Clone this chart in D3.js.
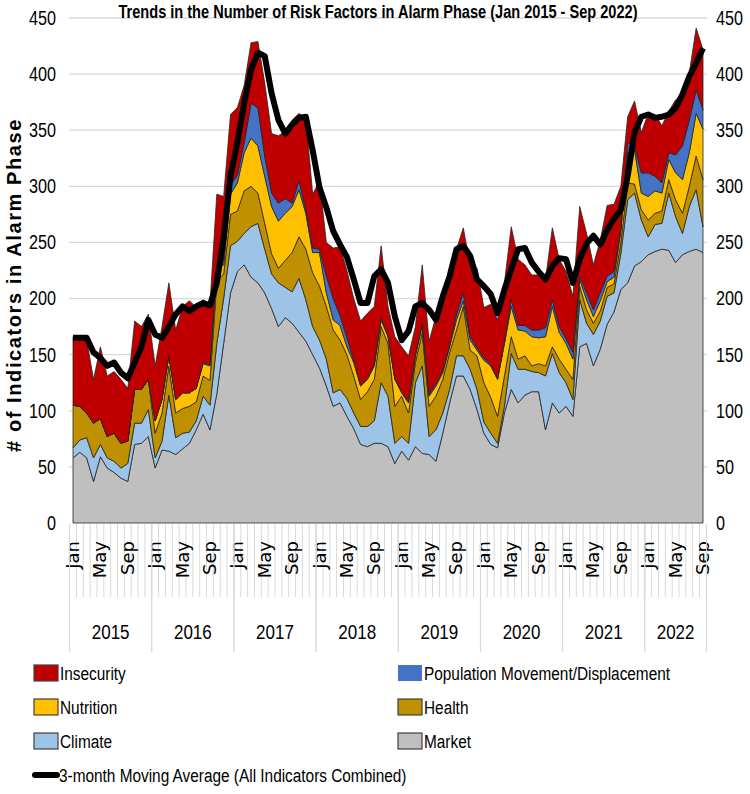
<!DOCTYPE html>
<html>
<head>
<meta charset="utf-8">
<script src="https://cdnjs.cloudflare.com/ajax/libs/d3/7.8.5/d3.min.js"></script>
<style>
  body { margin: 0; background: #ffffff; }
  text { font-family: "Liberation Sans", Arial, sans-serif; fill: #000; }
</style>
</head>
<body>
<div id="container"></div>
<script>
let w = 750;
let h = 794;

// categories
let years = ["2015", "2016", "2017", "2018", "2019", "2020", "2021", "2022"];
let monthNames = ["Jan", "Feb", "Mar", "Apr", "May", "Jun", "Jul", "Aug", "Sep", "Oct", "Nov", "Dec"];
let shownMonths = ["Jan", "May", "Sep"];
let yTicks = [0, 50, 100, 150, 200, 250, 300, 350, 400, 450];

// number of indicators per month, Jan 2015 - Sep 2022
let market = [
  58, 63, 58, 37, 59, 49, 45, 40, 37, 70, 71, 77,
  49, 65, 64, 61, 66, 71, 83, 97, 83, 115, 160, 205,
  224, 230, 219, 214, 205, 191, 175, 183, 178, 170, 162, 150,
  138, 122, 104, 107, 95, 84, 70, 68, 71, 71, 68, 53,
  64, 56, 68, 62, 61, 55, 80, 107, 131, 131, 119, 101,
  80, 70, 67, 98, 119, 107, 114, 117, 117, 83, 107, 98,
  104, 95, 157, 160, 140, 155, 177, 188, 208, 214, 229, 233,
  239, 242, 244, 243, 232, 239, 242, 244, 241
];
let climate = [
  9, 11, 18, 21, 11, 9, 10, 9, 16, 19, 18, 24,
  9, 8, 50, 15, 14, 10, 8, 16, 22, 45, 40, 42,
  27, 28, 45, 53, 39, 31, 39, 27, 28, 48, 37, 25,
  25, 24, 12, 12, 16, 14, 16, 18, 20, 54, 45, 18,
  13, 15, 57, 78, 16, 28, 18, 12, 18, 18, 18, 18,
  10, 10, 4, 6, 32, 30, 23, 18, 17, 48, 44, 36,
  21, 15, 42, 18, 28, 25, 25, 17, 32, 74, 65, 37,
  16, 24, 23, 51, 41, 19, 40, 53, 23
];
let health = [
  38, 30, 22, 31, 23, 19, 25, 22, 20, 30, 30, 27,
  22, 25, 26, 22, 22, 23, 17, 18, 22, 55, 22, 28,
  27, 38, 36, 27, 23, 18, 13, 24, 35, 37, 45, 48,
  48, 47, 56, 44, 39, 33, 24, 31, 37, 50, 47, 33,
  36, 27, 18, 30, 27, 30, 30, 33, 23, 44, 17, 30,
  35, 32, 24, 27, 15, 9, 12, 5, 8, 9, 6, 12,
  12, 18, 12, 12, 10, 9, 8, 8, 10, 15, 8, 9,
  15, 10, 11, 12, 15, 18, 18, 30, 42
];
let nutrition = [
  0, 0, 0, 0, 0, 0, 0, 0, 0, 0, 0, 0,
  11, 12, 9, 12, 14, 12, 12, 11, 13, 11, 8, 18,
  25, 34, 43, 42, 42, 42, 42, 42, 41, 42, 32, 18,
  30, 12, 9, 13, 7, 12, 12, 11, 12, 6, 6, 24,
  3, 9, 6, 6, 9, 9, 6, 5, 9, 5, 9, 5,
  20, 28, 33, 29, 27, 26, 22, 26, 23, 26, 36, 24,
  23, 18, 6, 9, 6, 9, 5, 6, 10, 27, 31, 15,
  21, 20, 16, 18, 24, 30, 30, 38, 45
];
let displacement = [
  0, 0, 0, 0, 0, 0, 0, 0, 0, 0, 0, 0,
  0, 0, 0, 0, 0, 0, 0, 1, 1, 3, 4, 8,
  7, 9, 31, 34, 18, 12, 16, 13, 3, 8, 3, 4,
  3, 15, 19, 9, 8, 2, 1, 1, 2, 2, 1, 1,
  1, 1, 1, 2, 2, 2, 2, 2, 5, 7, 3, 2,
  2, 1, 1, 1, 6, 4, 5, 6, 7, 8, 6, 5,
  4, 6, 3, 6, 6, 7, 5, 5, 2, 9, 3, 18,
  21, 13, 9, 6, 16, 30, 29, 21, 17
];
let insecurity = [
  61, 61, 65, 39, 64, 54, 55, 57, 47, 61, 56, 58,
  49, 65, 65, 62, 77, 82, 72, 56, 54, 64, 57, 63,
  60, 51, 54, 59, 65, 53, 60, 60, 74, 60, 82, 48,
  61, 30, 45, 61, 60, 55, 57, 58, 51, 64, 26, 37,
  40, 41, 25, 52, 47, 60, 69, 61, 58, 58, 63, 71,
  45, 54, 52, 53, 65, 59, 54, 49, 49, 43, 64, 60,
  60, 50, 62, 53, 40, 47, 63, 60, 38, 23, 40, 36,
  53, 55, 51, 37, 49, 46, 42, 55, 54
];
// 3-month moving average as drawn in the chart
let movingAvg = [
  165, 165, 165, 152, 147, 140, 143, 134, 129, 143, 157, 181,
  168, 165, 175, 186, 193, 189, 193, 196, 194, 214, 255, 309,
  339, 374, 404, 419, 416, 383, 359, 347, 355, 361, 362, 332,
  299, 281, 260, 248, 237, 217, 196, 196, 220, 226, 214, 184,
  163, 171, 193, 196, 190, 181, 202, 220, 244, 247, 238, 217,
  211, 204, 187, 208, 226, 244, 245, 232, 224, 217, 229, 236,
  235, 214, 235, 249, 256, 248, 261, 271, 279, 309, 348, 362,
  364, 361, 362, 364, 370, 382, 398, 410, 423
];

// month categories
let months = [];
years.forEach(function(yr){
  monthNames.forEach(function(m){
    if(months.length < market.length){
      months.push({year: yr, month: m});
    }
  });
});

let keys = ["market", "climate", "health", "nutrition", "displacement", "insecurity"];
let labels = {
  insecurity: "Insecurity",
  displacement: "Population Movement/Displacement",
  nutrition: "Nutrition",
  health: "Health",
  climate: "Climate",
  market: "Market"
};
let colors = {
  insecurity: "#c00000",
  displacement: "#4472c4",
  nutrition: "#ffc000",
  health: "#bf9000",
  climate: "#9dc3e6",
  market: "#bfbfbf"
};

// the original uses a condensed font; squeeze regular Liberation Sans instead
let squeeze = 0.81;
function narrowText(parent, str, x, y, size){
  return parent.append("text")
    .text(str)
    .attr("transform", "translate(" + x + "," + y + ") scale(" + squeeze + ",1)")
    .style("font-size", size + "px");
}

// table for d3.stack
let table = months.map(function(m, i){
  return {
    i: i,
    market: market[i],
    climate: climate[i],
    health: health[i],
    nutrition: nutrition[i],
    displacement: displacement[i],
    insecurity: insecurity[i]
  };
});

let viz = d3.select("#container")
  .append("svg")
    .attr("width", w)
    .attr("height", h)
    .style("background-color", "white")
;

let xScale = d3.scalePoint().domain(d3.range(months.length)).range([73, 703]);
let yScale = d3.scaleLinear().domain([0, 450]).range([523, 18]);
let step = xScale.step();

// gridlines
viz.append("g")
  .selectAll("line")
  .data(yTicks.filter(function(t){ return t > 0; }))
  .enter()
  .append("line")
    .attr("x1", 69)
    .attr("x2", 707)
    .attr("y1", function(d){ return yScale(d); })
    .attr("y2", function(d){ return yScale(d); })
    .attr("stroke", "#d9d9d9")
    .attr("stroke-width", 1.3)
;

// stacked areas
let stacked = d3.stack().keys(keys)(table);
let area = d3.area()
  .x(function(d){ return xScale(d.data.i); })
  .y0(function(d){ return yScale(d[0]); })
  .y1(function(d){ return yScale(d[1]); })
;
viz.append("g")
  .selectAll("path")
  .data(stacked)
  .enter()
  .append("path")
    .attr("d", area)
    .attr("fill", function(d){ return colors[d.key]; })
    .attr("stroke", "#262626")
    .attr("stroke-width", 0.8)
    .attr("stroke-linejoin", "round")
;

// moving average
let line = d3.line()
  .x(function(d, i){ return xScale(i); })
  .y(function(d){ return yScale(d); })
;
viz.append("path")
  .datum(movingAvg)
  .attr("d", line)
  .attr("fill", "none")
  .attr("stroke", "#000")
  .attr("stroke-width", 6)
  .attr("stroke-linejoin", "round")
;

// y axes
let leftAxis = d3.axisLeft(yScale).tickValues(yTicks).tickSize(0).tickPadding(0);
let leftGroup = viz.append("g").attr("transform", "translate(56,0)").call(leftAxis);
let rightAxis = d3.axisRight(yScale).tickValues(yTicks).tickSize(0).tickPadding(0);
let rightGroup = viz.append("g").attr("transform", "translate(716,0)").call(rightAxis);
[leftGroup, rightGroup].forEach(function(g){
  g.select(".domain").remove();
  g.selectAll("text")
    .attr("font-family", "Liberation Sans, Arial, sans-serif")
    .attr("font-size", 20)
    .attr("fill", "#000")
    .attr("transform", "scale(" + squeeze + ",1)");
});

// x axis: month ticks, month labels, year groups
let axisG = viz.append("g");
d3.range(months.length + 1).forEach(function(i){
  let xx = xScale(0) + (i - 0.5) * step;
  axisG.append("line")
    .attr("x1", xx).attr("x2", xx)
    .attr("y1", 524).attr("y2", 597)
    .attr("stroke", "#d9d9d9")
    .attr("stroke-width", 1);
});
axisG.selectAll(".mlabel")
  .data(months.filter(function(m){ return shownMonths.indexOf(m.month) >= 0; }))
  .enter()
  .append("text")
    .attr("class", "mlabel")
    .text(function(d){ return d.month; })
    .attr("transform", function(d){
      return "translate(" + (xScale(months.indexOf(d)) + 6) + ",541) rotate(-90)";
    })
    .attr("text-anchor", "end")
    .style("font-family", "DejaVu Sans, Verdana, sans-serif")
    .style("font-size", "18px")
;
years.forEach(function(yr){
  let idx = [];
  months.forEach(function(m, i){ if(m.year == yr){ idx.push(i); } });
  let x0 = xScale(idx[0]) - step / 2;
  let x1 = xScale(idx[idx.length - 1]) + step / 2;
  axisG.append("line")
    .attr("x1", x0).attr("x2", x0)
    .attr("y1", 524).attr("y2", 652)
    .attr("stroke", "#d9d9d9");
  axisG.append("line")
    .attr("x1", x1).attr("x2", x1)
    .attr("y1", 524).attr("y2", 652)
    .attr("stroke", "#d9d9d9");
  narrowText(axisG, yr, (x0 + x1) / 2, 639, 21)
    .attr("text-anchor", "middle");
});

// title
narrowText(viz, "Trends in the Number of Risk Factors in Alarm Phase (Jan 2015 - Sep 2022)", 378, 18, 18)
  .attr("text-anchor", "middle")
  .style("font-weight", "bold");

// y axis title
viz.append("text")
  .text("# of Indicators in Alarm Phase")
  .attr("transform", "translate(21,285) rotate(-90)")
  .attr("text-anchor", "middle")
  .style("font-size", "20px")
  .style("letter-spacing", "1.6px")
  .style("font-weight", "bold");

// legend
let legendItems = [
  {key: "insecurity", col: 0, row: 0},
  {key: "displacement", col: 1, row: 0},
  {key: "nutrition", col: 0, row: 1},
  {key: "health", col: 1, row: 1},
  {key: "climate", col: 0, row: 2},
  {key: "market", col: 1, row: 2}
];
let legend = viz.append("g");
legendItems.forEach(function(it){
  let lx = it.col == 0 ? 34 : 398;
  let ly = 673 + it.row * 34;
  legend.append("rect")
    .attr("x", lx).attr("y", ly - 8)
    .attr("width", 24).attr("height", 16)
    .attr("fill", colors[it.key])
    .attr("stroke", it.key == "displacement" ? "none" : "#404040")
    .attr("stroke-width", 1.2);
  narrowText(legend, labels[it.key], lx + 26, ly, 19)
    .attr("dy", "0.35em");
});
legend.append("line")
  .attr("x1", 35).attr("x2", 57)
  .attr("y1", 775).attr("y2", 775)
  .attr("stroke", "#000")
  .attr("stroke-width", 6)
  .attr("stroke-linecap", "round");
narrowText(legend, "3-month Moving Average (All Indicators Combined)", 59, 775, 19)
  .attr("dy", "0.35em");
</script>
</body>
</html>
